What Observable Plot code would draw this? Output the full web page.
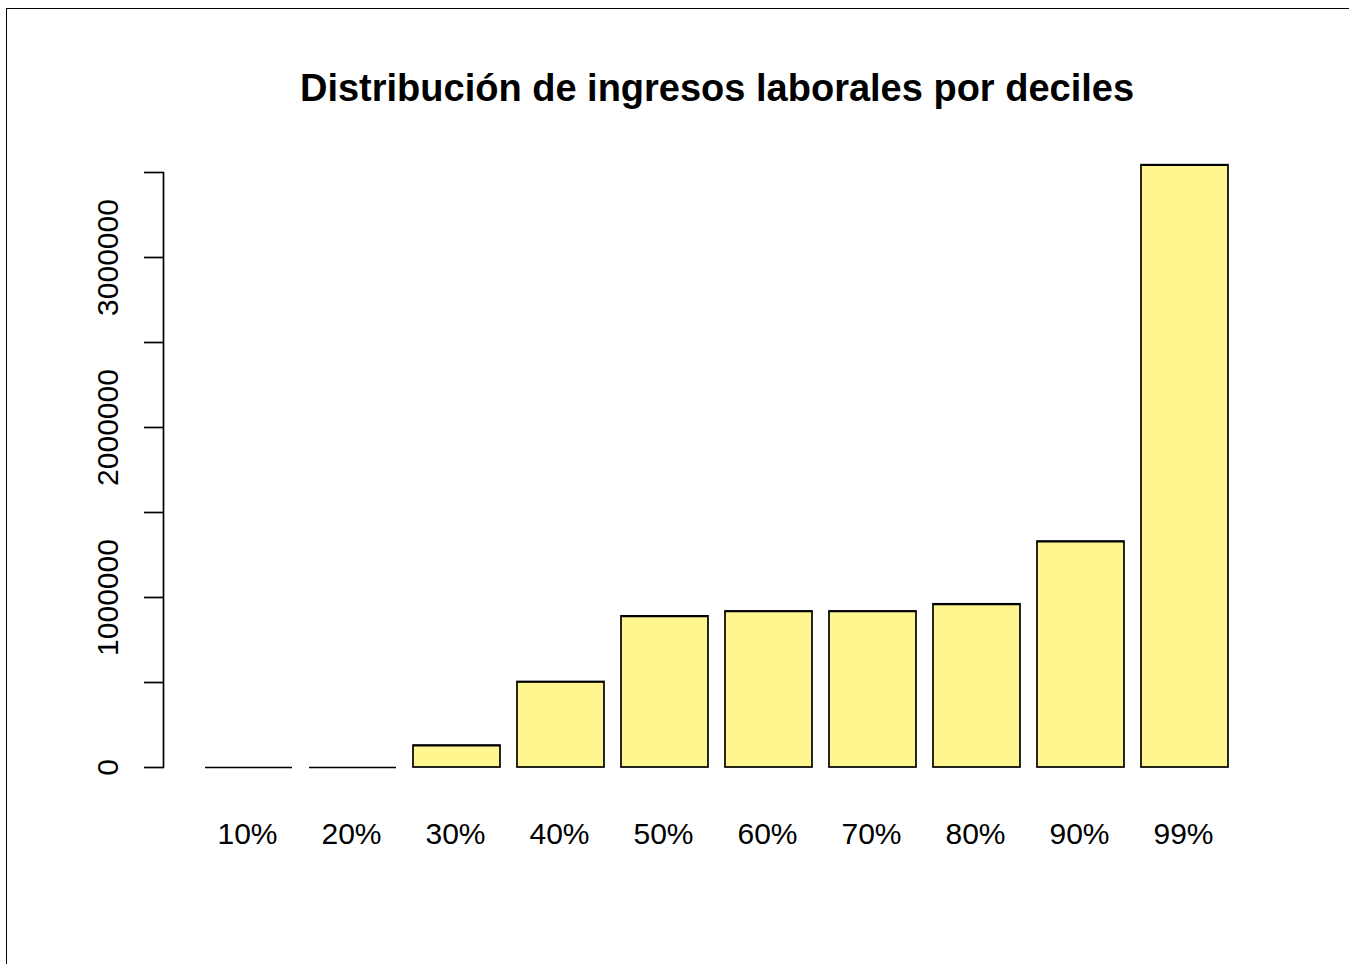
<!DOCTYPE html>
<html>
<head>
<meta charset="utf-8">
<script src="https://cdn.jsdelivr.net/npm/d3@7"></script>
<script src="https://cdn.jsdelivr.net/npm/@observablehq/plot@0.6"></script>
<style>
  html, body { margin: 0; padding: 0; background: #fff; overflow: hidden; }
  #wrap { position: relative; width: 1349px; height: 964px; }
  #border { position: absolute; left: 6px; top: 8px; right: -10px; bottom: -10px;
            border-left: 1.3px solid #000; border-top: 1.3px solid #000; pointer-events: none; }
  #chart svg { display: block; }
</style>
</head>
<body>
<div id="wrap">
  <div id="chart"></div>
  <div id="border"></div>
</div>
<script>
const title = "Distribución de ingresos laborales por deciles";
const deciles = ["10%", "20%", "30%", "40%", "50%", "60%", "70%", "80%", "90%", "99%"];
const ingresos = [0, 0, 129000, 503000, 889000, 918000, 918000, 960000, 1329000, 3543000];
const yTicks = [0, 500000, 1000000, 1500000, 2000000, 2500000, 3000000, 3500000];
const yLabelValues = [0, 1000000, 2000000, 3000000];
const yLabels = ["0", "1000000", "2000000", "3000000"];

const data = deciles.map((d, i) => ({decil: d, valor: ingresos[i]}));
const yLab = yLabelValues.map((v, i) => ({v, t: yLabels[i]}));

const font = "'Liberation Sans', Arial, sans-serif";

const chart = Plot.plot({
  width: 1349,
  height: 964,
  marginLeft: 163,
  marginRight: 79,
  marginTop: 172,
  marginBottom: 197,
  style: {fontFamily: font, color: "#000", background: "#fff"},
  x: {type: "band", domain: deciles, paddingInner: 0.2 / 1.2, paddingOuter: 0.393},
  y: {domain: [0, d3.max(yTicks)]},
  marks: [
    Plot.barY(data, {x: "decil", y: "valor", fill: "#FFF68F", stroke: "#000", strokeWidth: 1.7}),
    Plot.tickY(data, {x: "decil", y: "valor", stroke: "#000", strokeWidth: 1.7}),
    Plot.frame({anchor: "left", stroke: "#000", strokeWidth: 1.7}),
    Plot.axisY({ticks: yTicks, tickSize: 19, tickFormat: () => "", strokeWidth: 1.7, label: null}),
    Plot.text(yLab, {y: "v", text: "t", frameAnchor: "left", rotate: -90, dx: -46,
                     lineAnchor: "bottom", textAnchor: "middle", fontSize: 30, fill: "#000"}),
    Plot.axisX({tickSize: 0, tickPadding: 55, fontSize: 30, label: null, fill: "#000", dx: -1.5}),
    Plot.text([title], {text: d => d, frameAnchor: "top", dy: -72, lineAnchor: "bottom",
                        fontSize: 38, fontWeight: "bold", fill: "#000"})
  ]
});
document.getElementById("chart").appendChild(chart);
</script>
</body>
</html>
